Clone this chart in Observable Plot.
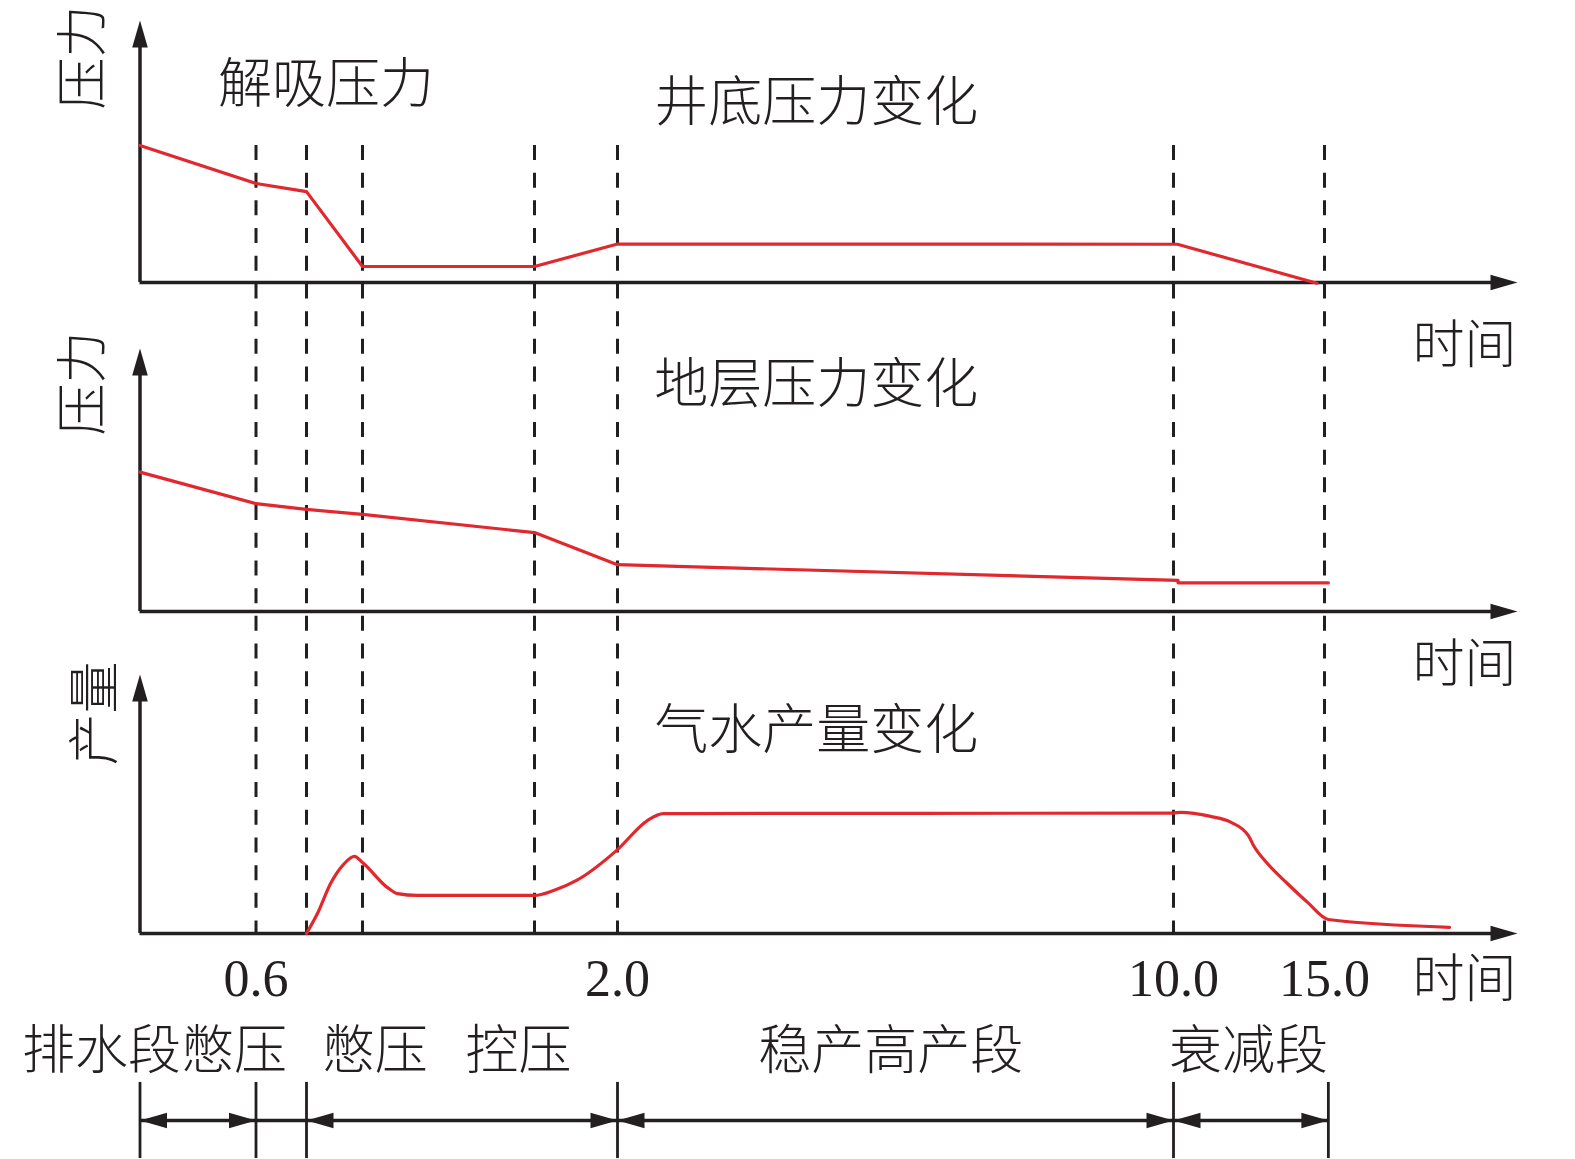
<!DOCTYPE html>
<html>
<head>
<meta charset="utf-8">
<script src="https://cdn.jsdelivr.net/npm/d3@7"></script>
<script src="https://cdn.jsdelivr.net/npm/@observablehq/plot@0.6"></script>
<style>
  html, body { margin: 0; padding: 0; background: #ffffff; }
  #chart svg { display: block; }
</style>
</head>
<body>
<div id="chart"></div>
<script>
// ---------------- DATA ----------------
// schematic time breakpoints (vertical dashed lines)
const stageTimes = [0.6, 0.8, 1.0, 1.7, 2.0, 10.0, 15.0];
const tickValues = [0.6, 2.0, 10.0, 15.0];

// 井底压力变化 (bottom-hole pressure), relative units 0-100
const bhpT = [0, 0.6, 0.8, 1.0, 1.7, 2.0, 10.13, 14.75];
const bhpV = [52.3, 37.8, 34.7, 6.1, 6.1, 14.7, 14.6, -1.1];

// 地层压力变化 (formation pressure)
const resT = [0, 0.6, 0.8, 1.0, 1.7, 2.0, 10.15, 10.15, 15.1];
const resV = [53.0, 41.0, 38.8, 36.9, 30.0, 17.8, 11.8, 10.9, 10.9];

// 气水产量变化 (gas/water production)
const prodT = [0.8, 0.839, 0.886, 0.935, 0.971, 1.0, 1.106, 1.142, 1.224, 1.7, 1.769, 1.852, 2.0, 2.43, 2.66, 10.0, 10.23, 11.23, 11.89, 12.48, 12.65, 13.11, 13.77, 14.44, 15.1, 18.24];
const prodV = [0, 7.7, 19.3, 27.0, 29.8, 27.4, 17.4, 15.4, 14.7, 14.7, 16.6, 20.5, 32.4, 43.6, 46.3, 46.5, 46.8, 45.2, 43.0, 37.8, 34.0, 27.0, 19.3, 12.0, 5.4, 2.4];

const panelTitles = ["井底压力变化", "地层压力变化", "气水产量变化"];
const panelYLabels = ["压力", "压力", "产量"];
const desorptionLabel = "解吸压力";
const timeLabel = "时间";

const stageNames = ["排水段憋压", "憋压", "控压", "稳产高产段", "衰减段"];
const bracketBounds = [0, 0.6, 0.8, 2.0, 10.0, 15.1];
const bracketHasHeads = [true, false, true, true, true];

// ---------------- LAYOUT ----------------
const panelOffsets = [400, 200, 0];          // y offset of each panel (top → bottom)
const AXIS_TOP = 100, AXIS_END = 20;          // arrow tips (panel units / time units)
const titleT = 4.86, titleV = [68.3, 85.9, 78.0];
const yLabelT = [-0.287, -0.287, -0.225], yLabelV = [85.9, 86.7, 84.9];
const desorpT = 0.87, desorpV = 75.2;
const timeLabelT = 18.63, timeLabelY = [303, 114.3, -18.1];
const tickLabelY = -17.6;
const stageLabelT = [0.075, 1.05, 1.635, 5.93, 12.48], stageLabelY = -45.6;
const bracketTop = -57.5, bracketBottom = -86.9, bracketLineY = -72.2;

const INK = "#231f20", RED = "#e0282e";
const CJK = "'Noto Sans CJK SC', 'Noto Sans CJK JP', sans-serif";
const SERIF = "'Liberation Serif', 'DejaVu Serif', serif";

// filled triangular arrowheads (tip at the anchor point)
const tri = (p) => ({draw(ctx) { ctx.moveTo(p[0][0], p[0][1]); ctx.lineTo(p[1][0], p[1][1]); ctx.lineTo(p[2][0], p[2][1]); ctx.closePath(); }});
const HL = 27, HW = 7.8;
const headUp = tri([[0, 0], [-HW, HL], [HW, HL]]);
const headRight = tri([[0, 0], [-HL, -HW], [-HL, HW]]);
const headLeft = tri([[0, 0], [HL, -HW], [HL, HW]]);

// ---------------- TABLES ----------------
const bhp = bhpT.map((t, i) => ({t, y: panelOffsets[0] + bhpV[i]}));
const res = resT.map((t, i) => ({t, y: panelOffsets[1] + resV[i]}));
const prod = prodT.map((t, i) => ({t, y: panelOffsets[2] + prodV[i]}));
const panels = panelOffsets.map((o, i) => ({
  offset: o, title: panelTitles[i], ylab: panelYLabels[i],
  titleY: o + titleV[i], ylabT: yLabelT[i], ylabY: o + yLabelV[i], timeY: timeLabelY[i]
}));
const dashTop = panelOffsets[0] + bhpV[0];
const segments = stageNames.map((name, i) => ({
  name, a: bracketBounds[i], b: bracketBounds[i + 1], heads: bracketHasHeads[i], labelT: stageLabelT[i]
}));
const headed = segments.filter(s => s.heads);

const chart = Plot.plot({
  width: 1575,
  height: 1159,
  margin: 0,
  style: {background: "#ffffff"},
  x: {type: "linear", axis: null,
      domain: [0, 0.6, 0.8, 1.0, 1.7, 2.0, 10, 15, 20],
      range: [139.5, 255.5, 306, 362, 534, 617, 1173, 1324, 1517]},
  y: {type: "linear", axis: null,
      domain: [0, 100, 200, 300, 400, 500],
      range: [933, 674, 611, 348, 282, 20]},
  marks: [
    // vertical dashed stage lines
    Plot.ruleX(stageTimes, {x: d => d, y1: dashTop, y2: 0, stroke: INK, strokeWidth: 3, strokeDasharray: "15,12.7"}),
    // axes
    Plot.ruleX(panels, {x: 0, y1: "offset", y2: d => d.offset + AXIS_TOP - 5, stroke: INK, strokeWidth: 3.5}),
    Plot.ruleY(panels, {y: "offset", x1: 0, x2: AXIS_END - 0.3, stroke: INK, strokeWidth: 3.5}),
    Plot.dot(panels, {x: 0, y: d => d.offset + AXIS_TOP, symbol: headUp, fill: INK, stroke: "none"}),
    Plot.dot(panels, {x: AXIS_END, y: "offset", symbol: headRight, fill: INK, stroke: "none"}),
    // red curves
    Plot.line(bhp, {x: "t", y: "y", stroke: RED, strokeWidth: 3.2}),
    Plot.line(res, {x: "t", y: "y", stroke: RED, strokeWidth: 3.2}),
    Plot.line(prod, {x: "t", y: "y", stroke: RED, strokeWidth: 3.2, curve: "monotone-x"}),
    // titles & labels
    Plot.text(panels, {x: titleT, y: "titleY", text: "title", fontSize: 54, fontFamily: CJK, fontWeight: 300, fill: INK}),
    Plot.text([desorptionLabel], {x: desorpT, y: panelOffsets[0] + desorpV, text: d => d, fontSize: 54, fontFamily: CJK, fontWeight: 300, fill: INK}),
    Plot.text(panels, {x: "ylabT", y: "ylabY", text: "ylab", rotate: -90, fontSize: 52, fontFamily: CJK, fontWeight: 300, fill: INK}),
    Plot.text(panels, {x: timeLabelT, y: "timeY", text: () => timeLabel, fontSize: 52, fontFamily: CJK, fontWeight: 300, fill: INK}),
    // tick labels
    Plot.text(tickValues, {x: d => d, y: tickLabelY, text: d => d.toFixed(1), fontSize: 52, fontFamily: SERIF, fill: INK}),
    // stage names
    Plot.text(segments, {x: "labelT", y: stageLabelY, text: "name", fontSize: 53, fontFamily: CJK, fontWeight: 300, fill: INK}),
    // bracket
    Plot.ruleX(bracketBounds, {x: d => d, y1: bracketTop, y2: bracketBottom, stroke: INK, strokeWidth: 2.8}),
    Plot.ruleY(segments, {y: bracketLineY, x1: "a", x2: "b", stroke: INK, strokeWidth: 3.5}),
    Plot.dot(headed, {x: "a", y: bracketLineY, symbol: headLeft, fill: INK, stroke: "none"}),
    Plot.dot(headed, {x: "b", y: bracketLineY, symbol: headRight, fill: INK, stroke: "none"})
  ]
});
document.getElementById("chart").appendChild(chart);
</script>
</body>
</html>
